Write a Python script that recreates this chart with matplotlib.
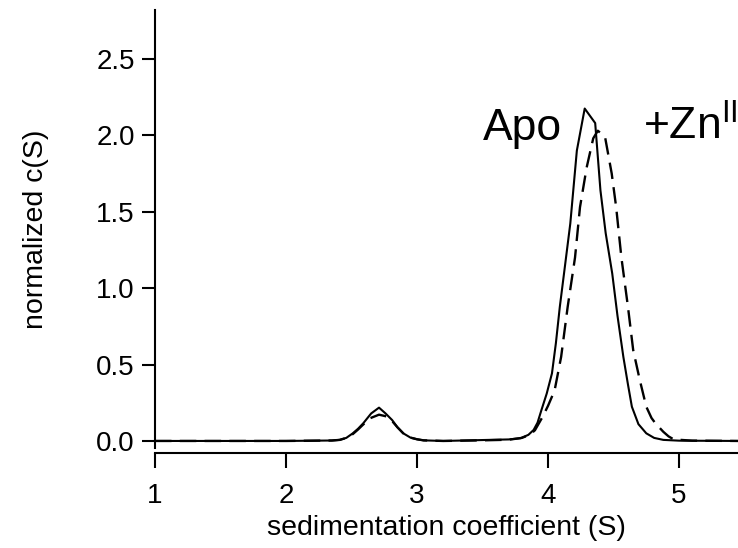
import matplotlib
matplotlib.use('Agg')

import matplotlib.pyplot as plt

plt.rcParams['font.family'] = ['Liberation Sans', 'DejaVu Sans']
plt.rcParams['mathtext.fontset'] = 'custom'
plt.rcParams['mathtext.rm'] = 'Liberation Sans'

# apo protein, solid trace
apo_s = [1.0, 2.0, 2.35, 2.41, 2.46, 2.51, 2.55, 2.59, 2.65, 2.71, 2.76, 2.81,
         2.85, 2.895, 2.95, 3.0, 3.05, 3.2, 3.5, 3.7, 3.79, 3.85, 3.89, 3.92,
         3.95, 3.99, 4.03, 4.06, 4.09, 4.13, 4.17, 4.22, 4.28, 4.36, 4.40, 4.44,
         4.49, 4.53, 4.575, 4.61, 4.64, 4.69, 4.75, 4.81, 4.88, 5.0, 5.45]
apo_c = [0.0, 0.0, 0.003, 0.007, 0.02, 0.05, 0.08, 0.116, 0.18, 0.218, 0.18, 0.137,
         0.09, 0.05, 0.022, 0.011, 0.004, 0.0, 0.006, 0.01, 0.018, 0.04, 0.072, 0.12,
         0.203, 0.31, 0.442, 0.64, 0.878, 1.15, 1.423, 1.90, 2.175, 2.08, 1.64, 1.36,
         1.096, 0.82, 0.55, 0.37, 0.224, 0.11, 0.05, 0.02, 0.007, 0.002, 0.0]

# zinc bound, dashed trace
zn_s = [1.0, 2.0, 2.35, 2.41, 2.46, 2.51, 2.55, 2.58, 2.64, 2.71, 2.77, 2.81,
        2.85, 2.895, 2.95, 3.0, 3.05, 3.2, 3.5, 3.7, 3.80, 3.86, 3.90, 3.96,
        4.00, 4.05, 4.10, 4.15, 4.206, 4.244, 4.295, 4.345, 4.38, 4.435, 4.486, 4.52,
        4.56, 4.61, 4.65, 4.70, 4.75, 4.79, 4.82, 4.88, 4.92, 4.96, 5.1, 5.45]
zn_c = [0.0, 0.0, 0.003, 0.007, 0.02, 0.045, 0.075, 0.1, 0.148, 0.172, 0.16, 0.13,
        0.09, 0.05, 0.022, 0.011, 0.004, 0.0, 0.004, 0.008, 0.02, 0.04, 0.07, 0.16,
        0.23, 0.33, 0.55, 0.878, 1.20, 1.53, 1.79, 1.98, 2.03, 1.99, 1.75, 1.53,
        1.20, 0.878, 0.595, 0.40, 0.224, 0.15, 0.115, 0.06, 0.03, 0.01, 0.002, 0.0]

fig = plt.figure(figsize=(7.38, 5.48), dpi=100)
ax = fig.add_axes([0.21, 0.1825, 0.79, 0.7993])

ax.plot(apo_s, apo_c, color='black', lw=1.5)
ax.plot(zn_s, zn_c, color='black', lw=1.7, dashes=(7, 3.5))

ax.set_xlim(1, 5.45)
ax.set_ylim(-0.046, 2.82)
ax.set_xticks([1, 2, 3, 4, 5])
ax.set_yticks([0.0, 0.5, 1.0, 1.5, 2.0, 2.5])
ax.set_yticklabels(['0.0', '0.5', '1.0', '1.5', '2.0', '2.5'])

for side in ['top', 'right']:
    ax.spines[side].set_visible(False)
for side in ['left', 'bottom']:
    ax.spines[side].set_linewidth(1.5)
ax.spines['bottom'].set_position(('outward', 3.6))

ax.tick_params(axis='y', direction='out', length=9.4, width=1.5, pad=5, labelsize=20)
ax.tick_params(axis='x', direction='out', length=10.8, width=1.5, pad=11, labelsize=20)

ax.set_xlabel('sedimentation coefficient (S)', fontsize=20.5, labelpad=4)
ax.set_ylabel('normalized c(S)', fontsize=20.5, labelpad=34)

ax.text(3.5, 1.97, 'Apo', fontsize=32)
ax.text(4.725, 1.97, r'+Zn$^{\mathrm{II}}$', fontsize=32)

fig.savefig('out.png', dpi=100)
